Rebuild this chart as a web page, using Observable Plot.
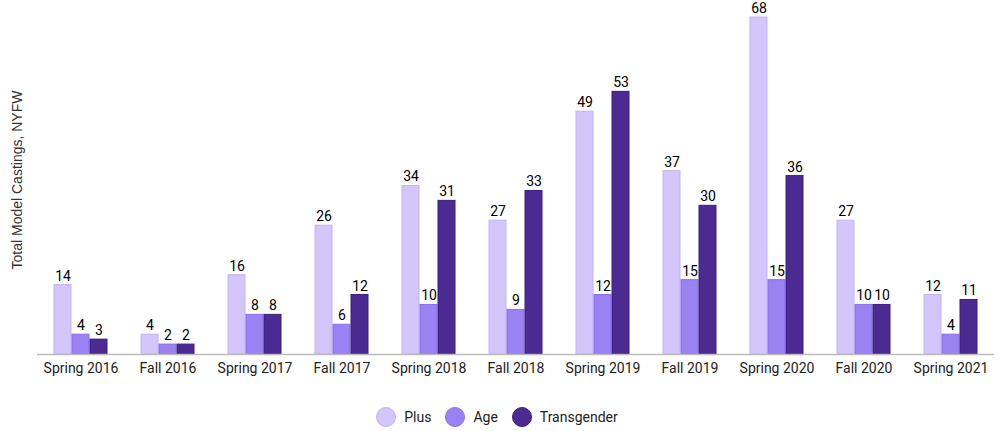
<!DOCTYPE html>
<html>
<head>
<meta charset="utf-8">
<script src="https://cdn.jsdelivr.net/npm/d3@7"></script>
<script src="https://cdn.jsdelivr.net/npm/@observablehq/plot@0.6"></script>
<style>
  html, body { margin: 0; padding: 0; background: #fff; }
  #wrap { position: relative; width: 1000px; height: 431px; font-family: Roboto, sans-serif; }
  #ylabel { position: absolute; left: 17px; top: 180px; transform: translate(-50%, -50%) rotate(-90deg);
    font-family: "Liberation Sans", Arial, sans-serif; font-size: 14px; color: #333; white-space: nowrap; }
  #legend { position: absolute; top: 407px; left: -3px; width: 1000px; display: flex; justify-content: center; gap: 14px;
    font-family: Roboto, sans-serif; font-size: 14px; color: #222; align-items: center; }
  .item { display: flex; align-items: center; gap: 8px; }
  .dot { width: 20px; height: 20px; border-radius: 50%; box-sizing: border-box; }
</style>
</head>
<body>
<div id="wrap">
  <div id="chart"></div>
  <div id="ylabel">Total Model Castings, NYFW</div>
  <div id="legend"></div>
</div>
<script>
const seasons = ["Spring 2016","Fall 2016","Spring 2017","Fall 2017","Spring 2018","Fall 2018","Spring 2019","Fall 2019","Spring 2020","Fall 2020","Spring 2021"];
const seriesNames = ["Plus","Age","Transgender"];
const plusValues = [14, 4, 16, 26, 34, 27, 49, 37, 68, 27, 12];
const ageValues = [4, 2, 8, 6, 10, 9, 12, 15, 15, 10, 4];
const transValues = [3, 2, 8, 12, 31, 33, 53, 30, 36, 10, 11];
const fills = ["#d2c6fb", "#9b82f2", "#4b2b92"];
const strokes = ["#c3b3f5", "#8a6fe6", "#3a1f7d"];

const valuesBySeries = [plusValues, ageValues, transValues];
const data = [];
seasons.forEach((s, i) => {
  seriesNames.forEach((n, j) => data.push({season: s, series: n, value: valuesBySeries[j][i]}));
});

const chart = Plot.plot({
  width: 1000,
  height: 395,
  marginLeft: 35,
  marginRight: 5,
  marginTop: 17,
  marginBottom: 41,
  style: {fontFamily: "Roboto, sans-serif", fontSize: "14px", color: "#222"},
  fx: {domain: seasons, padding: 0, label: null, tickSize: 0, tickPadding: 9, axis: "bottom"},
  x: {domain: seriesNames, paddingInner: 0.08, paddingOuter: 0.92, axis: null},
  y: {domain: [0, 68], axis: null},
  color: {domain: seriesNames, range: fills},
  marks: [
    Plot.barY(data, {fx: "season", x: "series", y: "value", fill: "series",
      stroke: d => strokes[seriesNames.indexOf(d.series)], strokeWidth: 1}),
    Plot.ruleY([0], {stroke: "#bbb", strokeWidth: 1.5}),
    Plot.text(data, {fx: "season", x: "series", y: "value", text: d => String(d.value), dy: -9,
      fill: "#000", fontSize: 14, fontWeight: "normal"})
  ]
});
document.getElementById("chart").appendChild(chart);

const legend = document.getElementById("legend");
seriesNames.forEach((n, j) => {
  const item = document.createElement("div");
  item.className = "item";
  const dot = document.createElement("div");
  dot.className = "dot";
  dot.style.background = fills[j];
  dot.style.border = "1px solid " + strokes[j];
  const label = document.createElement("span");
  label.textContent = n;
  item.appendChild(dot);
  item.appendChild(label);
  legend.appendChild(item);
});
</script>
</body>
</html>
